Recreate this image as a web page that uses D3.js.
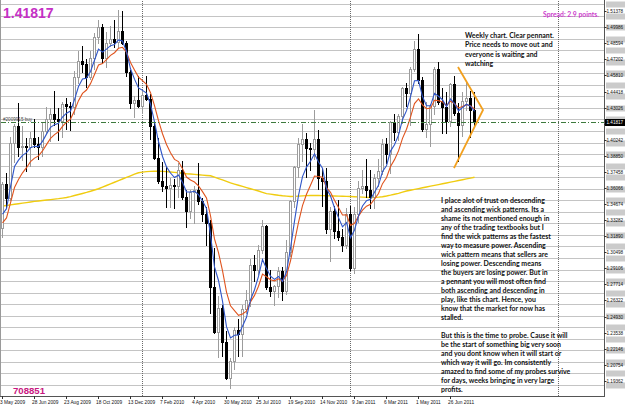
<!DOCTYPE html>
<html><head><meta charset="utf-8">
<script src="https://cdn.jsdelivr.net/npm/d3@7"></script>
<style>
html,body{margin:0;padding:0;background:#fff;overflow:hidden}
svg{display:block}
</style></head><body>
<svg id="chart" width="625" height="406"></svg>
<script>
// ---------- DATA (EUR/USD weekly) ----------
const opens = [1.3260,1.3640,1.3520,1.4000,1.4140,1.3960,1.3970,1.3960,1.4040,1.3990,
1.3960,1.4100,1.4200,1.4250,1.4200,1.4190,1.4330,1.4320,1.4310,1.4570,
1.4710,1.4680,1.4570,1.4730,1.4910,1.5000,1.4730,1.4860,1.4900,1.4870,
1.4970,1.4860,1.4610,1.4340,1.4370,1.4320,1.4410,1.4380,1.4140,1.3870,
1.3670,1.3620,1.3610,1.3630,1.3620,1.3760,1.3530,1.3410,1.3570,1.3590,
1.3490,1.3380,1.3300,1.2750,1.2360,1.2570,1.2270,1.1960,1.2110,1.2380,
1.2340,1.2560,1.2640,1.2940,1.2900,1.3070,1.3280,1.2750,1.2710,1.2760,
1.2890,1.2710,1.3050,1.3490,1.3790,1.3990,1.4030,1.3950,1.3940,1.4030,
1.3690,1.3670,1.3250,1.3410,1.3230,1.3180,1.3110,1.3380,1.2910,1.3380,
1.3610,1.3620,1.3590,1.3530,1.3690,1.3750,1.3990,1.3900,1.4180,1.4090,
1.4230,1.4470,1.4430,1.4640,1.4810,1.4540,1.4120,1.4160,1.4320,1.4640,
1.4350,1.4310,1.4190,1.4510,1.4260,1.4150,1.4360,1.4390,1.4280];
const highs = [1.3660,1.3740,1.4050,1.4160,1.4340,1.4140,1.4040,1.4090,1.4200,1.4050,
1.4180,1.4310,1.4300,1.4450,1.4300,1.4350,1.4390,1.4350,1.4620,1.4790,
1.4840,1.4720,1.4790,1.4950,1.5060,1.5030,1.4960,1.5010,1.5060,1.5144,
1.5140,1.4880,1.4630,1.4400,1.4580,1.4450,1.4580,1.4420,1.4170,1.4040,
1.3830,1.3800,1.3690,1.3680,1.3820,1.3840,1.3590,1.3590,1.3620,1.3820,
1.3520,1.3440,1.3330,1.3090,1.2670,1.2590,1.2370,1.2130,1.2400,1.2470,
1.2590,1.2720,1.2990,1.3030,1.3110,1.3330,1.3290,1.2900,1.2770,1.2920,
1.2920,1.3160,1.3500,1.3800,1.4040,1.4160,1.4080,1.4000,1.4280,1.4110,
1.3770,1.3780,1.3440,1.3450,1.3500,1.3250,1.3430,1.3450,1.3440,1.3670,
1.3760,1.3860,1.3760,1.3730,1.3860,1.4030,1.4040,1.4190,1.4250,1.4250,
1.4480,1.4520,1.4650,1.4880,1.4940,1.4570,1.4350,1.4330,1.4650,1.4700,
1.4470,1.4440,1.4520,1.4580,1.4340,1.4440,1.4530,1.4450,1.4440];
const lows = [1.3180,1.3440,1.3500,1.3830,1.3880,1.3850,1.3750,1.3800,1.3960,1.3860,
1.3880,1.4080,1.4010,1.4150,1.4020,1.4050,1.4120,1.4110,1.4250,1.4520,
1.4610,1.4480,1.4550,1.4640,1.4860,1.4690,1.4650,1.4840,1.4830,1.4830,
1.4850,1.4580,1.4300,1.4220,1.4310,1.4260,1.4370,1.4030,1.3860,1.3650,
1.3580,1.3440,1.3440,1.3430,1.3530,1.3510,1.3270,1.3350,1.3300,1.3470,
1.3320,1.3110,1.2520,1.2350,1.2140,1.2150,1.1950,1.1876,1.2040,1.2150,
1.2150,1.2520,1.2580,1.2800,1.2860,1.3040,1.2730,1.2670,1.2590,1.2660,
1.2640,1.2690,1.3020,1.3440,1.3700,1.3840,1.3700,1.3760,1.3860,1.3600,
1.3450,1.3220,1.2970,1.3170,1.3160,1.3060,1.3090,1.2900,1.2870,1.3310,
1.3560,1.3530,1.3430,1.3430,1.3620,1.3730,1.3820,1.3740,1.4020,1.4020,
1.4170,1.4320,1.4150,1.4620,1.4520,1.4100,1.4050,1.3970,1.4250,1.4330,
1.4080,1.4080,1.4140,1.4240,1.3840,1.4060,1.4280,1.4050,1.4140];
const closes = [1.3640,1.3520,1.4000,1.4140,1.3960,1.3970,1.3960,1.4040,1.3990,1.3960,
1.4100,1.4200,1.4250,1.4200,1.4190,1.4330,1.4320,1.4310,1.4570,1.4710,
1.4680,1.4570,1.4730,1.4910,1.5000,1.4730,1.4860,1.4900,1.4870,1.4970,
1.4860,1.4610,1.4340,1.4370,1.4320,1.4410,1.4380,1.4140,1.3870,1.3670,
1.3620,1.3610,1.3630,1.3620,1.3760,1.3530,1.3410,1.3570,1.3590,1.3490,
1.3380,1.3300,1.2750,1.2360,1.2570,1.2270,1.1960,1.2110,1.2380,1.2340,
1.2560,1.2640,1.2940,1.2900,1.3070,1.3280,1.2750,1.2710,1.2760,1.2890,
1.2710,1.3050,1.3490,1.3790,1.3990,1.4030,1.3950,1.3940,1.4030,1.3690,
1.3670,1.3250,1.3410,1.3230,1.3180,1.3110,1.3380,1.2910,1.3380,1.3610,
1.3620,1.3590,1.3530,1.3690,1.3750,1.3990,1.3900,1.4180,1.4090,1.4230,
1.4470,1.4430,1.4640,1.4810,1.4540,1.4120,1.4160,1.4320,1.4640,1.4350,
1.4310,1.4190,1.4510,1.4260,1.4150,1.4360,1.4390,1.4280,1.41817];

// moving-average lines, one value per bar
const maFast = [1.3380,1.3427,1.3618,1.3792,1.3848,1.3889,1.3913,1.3955,1.3967,1.3965,
1.4010,1.4073,1.4132,1.4155,1.4167,1.4221,1.4254,1.4273,1.4372,1.4485,
1.4550,1.4557,1.4615,1.4713,1.4809,1.4783,1.4809,1.4839,1.4849,1.4889,
1.4879,1.4789,1.4639,1.4549,1.4473,1.4452,1.4428,1.4332,1.4178,1.4009,
1.3879,1.3789,1.3736,1.3697,1.3718,1.3655,1.3573,1.3572,1.3578,1.3549,
1.3493,1.3429,1.3203,1.2922,1.2805,1.2627,1.2405,1.2307,1.2331,1.2334,
1.2409,1.2486,1.2637,1.2725,1.2840,1.2987,1.2908,1.2842,1.2815,1.2840,
1.2797,1.2881,1.3084,1.3319,1.3543,1.3705,1.3787,1.3838,1.3902,1.3831,
1.3777,1.3601,1.3537,1.3435,1.3350,1.3270,1.3307,1.3175,1.3243,1.3365,
1.3450,1.3497,1.3508,1.3569,1.3629,1.3749,1.3799,1.3926,1.3981,1.4064,
1.4199,1.4276,1.4397,1.4535,1.4537,1.4398,1.4319,1.4319,1.4426,1.4401,
1.4371,1.4311,1.4377,1.4338,1.4275,1.4303,1.4332,1.4315,1.4271];
const maSlow = [1.3304,1.3347,1.3478,1.3610,1.3680,1.3738,1.3782,1.3834,1.3865,1.3884,
1.3927,1.3982,1.4036,1.4069,1.4093,1.4140,1.4176,1.4203,1.4276,1.4363,
1.4426,1.4455,1.4510,1.4590,1.4672,1.4684,1.4719,1.4755,1.4778,1.4816,
1.4825,1.4782,1.4694,1.4629,1.4567,1.4536,1.4505,1.4432,1.4320,1.4190,
1.4076,1.3983,1.3912,1.3854,1.3835,1.3774,1.3701,1.3675,1.3658,1.3624,
1.3575,1.3520,1.3366,1.3165,1.3046,1.2891,1.2705,1.2586,1.2545,1.2504,
1.2515,1.2540,1.2620,1.2676,1.2755,1.2860,1.2838,1.2812,1.2802,1.2820,
1.2798,1.2848,1.2976,1.3139,1.3309,1.3453,1.3552,1.3630,1.3710,1.3706,
1.3699,1.3609,1.3569,1.3501,1.3437,1.3372,1.3374,1.3281,1.3301,1.3363,
1.3414,1.3449,1.3465,1.3510,1.3558,1.3644,1.3695,1.3792,1.3852,1.3928,
1.4036,1.4115,1.4220,1.4338,1.4378,1.4326,1.4293,1.4298,1.4366,1.4363,
1.4352,1.4320,1.4358,1.4338,1.4300,1.4312,1.4328,1.4318,1.4291];
const maLong = [1.3450,1.3455,1.3460,1.3465,1.3470,1.3475,1.3480,1.3485,1.3490,1.3494,
1.3498,1.3502,1.3506,1.3510,1.3514,1.3519,1.3524,1.3532,1.3541,1.3550,
1.3559,1.3568,1.3578,1.3589,1.3600,1.3614,1.3628,1.3642,1.3656,1.3670,
1.3684,1.3698,1.3712,1.3726,1.3738,1.3744,1.3748,1.3750,1.3751,1.3751,
1.3750,1.3748,1.3745,1.3742,1.3738,1.3734,1.3730,1.3727,1.3724,1.3721,
1.3718,1.3715,1.3712,1.3700,1.3688,1.3676,1.3663,1.3650,1.3640,1.3630,
1.3620,1.3610,1.3600,1.3590,1.3580,1.3569,1.3558,1.3553,1.3548,1.3543,
1.3539,1.3536,1.3533,1.3534,1.3536,1.3538,1.3540,1.3541,1.3542,1.3541,
1.3540,1.3539,1.3538,1.3537,1.3536,1.3535,1.3534,1.3533,1.3531,1.3529,
1.3527,1.3525,1.3524,1.3524,1.3527,1.3531,1.3537,1.3544,1.3552,1.3560,
1.3570,1.3580,1.3587,1.3594,1.3601,1.3608,1.3615,1.3622,1.3629,1.3636,
1.3643,1.3650,1.3657,1.3664,1.3671,1.3678,1.3685,1.3692,1.3699];

const dateLabels = ["3 May 2009","28 Jun 2009","23 Aug 2009","18 Oct 2009","13 Dec 2009",
"7 Feb 2010","4 Apr 2010","30 May 2010","25 Jul 2010","19 Sep 2010","14 Nov 2010",
"9 Jan 2011","6 Mar 2011","1 May 2011","26 Jun 2011"];
const dateLabelBars = [0,8,16,24,32,40,48,56,64,72,80,88,96,104,112];
const yearBreakBars = [35,87,139];

const priceTicks = [1.51378,1.49986,1.48594,1.47202,1.45810,1.44418,1.43026,1.41634,
1.40242,1.38850,1.37458,1.36066,1.34674,1.33282,1.31890,1.30498,1.29106,1.27714,
1.26322,1.24930,1.23538,1.22146,1.20754,1.19362];
const roundLevels = [1.52,1.51,1.50,1.49,1.48,1.47,1.46,1.45,1.44,1.43,1.42,1.41,1.40,
1.39,1.38,1.37,1.36,1.35,1.34,1.33,1.32,1.31,1.30,1.29,1.28,1.27,1.26,1.25,1.24,1.23,
1.22,1.21,1.20,1.19];

const currentPrice = 1.41817;
const orderPrice = 1.4175;
const orderLabel = "#2009915 buy";
const accountNo = "708851";
const spreadText = "Spread: 2.9 points.";
const pennant = [{bar:114, price:1.4654},{bar:120.25, price:1.4282},{bar:113, price:1.3779}];

const note1 = ["Weekly chart. Clear pennant.","Price needs to move out and",
"everyone is waiting and","watching"];
const note2 = ["I place alot of trust on descending","and ascending wick patterns. Its a",
"shame its not mentioned enough in","any of the trading textbooks but I",
"find the wick patterns as the fastest","way to measure power. Ascending",
"wick pattern means that sellers are","losing power. Descending means",
"the buyers are losing power. But in","a pennant you will most often find",
"both ascending and descending in","play, like this chart. Hence, you",
"know that the market for now has","stalled.","",
"But this is the time to probe. Cause it will","be the start of something big very soon",
"and you dont know when it will start or","which way it will go. Im consistently",
"amazed to find some of my probes survive","for days, weeks bringing in very large",
"profits."];

// ---------- DRAWING ----------
const W = 625, H = 406;
const plotL = 1, plotR = 604, plotT = 1, plotB = 396;
const svg = d3.select("#chart");
const x = d3.scaleLinear().domain([0, 1]).range([2, 6]);
const y = d3.scaleLinear().domain([1.18046, 1.5226]).range([396, 1]);

svg.append("rect").attr("width", W).attr("height", H).attr("fill", "#fff");
svg.append("defs").append("clipPath").attr("id", "plotclip")
  .append("rect").attr("x", plotL).attr("y", plotT).attr("width", plotR - plotL).attr("height", plotB - plotT);

const plot = svg.append("g").attr("clip-path", "url(#plotclip)");

// horizontal level lines
plot.append("g").selectAll("line").data(roundLevels).join("line")
  .attr("x1", plotL).attr("x2", plotR)
  .attr("y1", d => Math.round(y(d)) + 0.5).attr("y2", d => Math.round(y(d)) + 0.5)
  .attr("stroke", "#c4c4c4").attr("stroke-width", 1);

// period separators
plot.append("g").selectAll("line").data(yearBreakBars).join("line")
  .attr("x1", d => Math.round(x(d)) + 0.5).attr("x2", d => Math.round(x(d)) + 0.5)
  .attr("y1", plotT).attr("y2", plotB)
  .attr("stroke", "#6a6a6a").attr("stroke-width", 1).attr("stroke-dasharray", "1,1");

// long MA (yellow)
const line = d3.line().x((d, i) => x(i) + 0.5).y(d => y(d));
plot.append("path").datum(maLong).attr("d", line)
  .attr("fill", "none").attr("stroke", "#f0cc10").attr("stroke-width", 1.4);

// candles
const bars = d3.range(closes.length);
const cg = plot.append("g");
bars.forEach(i => {
  const bull = closes[i] >= opens[i];
  const xi = Math.round(x(i));
  cg.append("line")
    .attr("x1", xi + 0.5).attr("x2", xi + 0.5)
    .attr("y1", Math.round(y(highs[i]))).attr("y2", Math.round(y(lows[i])) + 1)
    .attr("stroke", bull ? "#9c9c9c" : "#000").attr("stroke-width", 1);
  const top = Math.round(y(Math.max(opens[i], closes[i])));
  const bot = Math.round(y(Math.min(opens[i], closes[i])));
  const h = Math.max(1, bot - top);
  if (bull) {
    cg.append("rect").attr("x", xi - 0.5).attr("y", top + 0.5)
      .attr("width", 2).attr("height", Math.max(0.5, h))
      .attr("fill", "#fff").attr("stroke", "#9c9c9c").attr("stroke-width", 1);
  } else {
    cg.append("rect").attr("x", xi - 1).attr("y", top)
      .attr("width", 3).attr("height", h + 1).attr("fill", "#000");
  }
});

// fast & slow MA
plot.append("path").datum(maSlow).attr("d", line)
  .attr("fill", "none").attr("stroke", "#e0541e").attr("stroke-width", 1.1);
plot.append("path").datum(maFast).attr("d", line)
  .attr("fill", "none").attr("stroke", "#2f55c8").attr("stroke-width", 1.1);

// order line
plot.append("line").attr("x1", plotL).attr("x2", plotR)
  .attr("y1", Math.round(y(orderPrice)) + 0.5).attr("y2", Math.round(y(orderPrice)) + 0.5)
  .attr("stroke", "#3d7a3d").attr("stroke-width", 1).attr("stroke-dasharray", "5,2,1,2");
plot.append("text").attr("x", 3).attr("y", y(orderPrice) - 1.5)
  .attr("font-family", "Liberation Sans, Arial, sans-serif").attr("font-size", 4.6)
  .attr("fill", "#444").text(orderLabel);

// pennant
plot.append("path").datum(pennant)
  .attr("d", d3.line().x(d => x(d.bar)).y(d => y(d.price)))
  .attr("fill", "none").attr("stroke", "#f2a01e").attr("stroke-width", 1.8)
  .attr("stroke-linejoin", "miter");

// ---------- frame & axes ----------
svg.append("line").attr("x1", 0.5).attr("x2", 0.5).attr("y1", 0).attr("y2", plotB)
  .attr("stroke", "#9a9a9a");
svg.append("line").attr("x1", plotR + 0.5).attr("x2", plotR + 0.5).attr("y1", 0).attr("y2", plotB + 1)
  .attr("stroke", "#555");
svg.append("line").attr("x1", 0).attr("x2", plotR + 1).attr("y1", plotB + 0.5).attr("y2", plotB + 0.5)
  .attr("stroke", "#555");

// price axis: grey level boxes first, black scale labels on top
const ax = svg.append("g").attr("font-family", "Liberation Sans, Arial, sans-serif")
  .attr("font-size", 4.6);
roundLevels.forEach(p => {
  const yy = Math.round(y(p)) + 0.5;
  ax.append("rect").attr("x", 606).attr("y", yy - 3).attr("width", 19).attr("height", 6)
    .attr("fill", "#cbcbcb");
});
const curY = Math.round(y(currentPrice)) + 0.5;
priceTicks.forEach(p => {
  const yy = Math.round(y(p)) + 0.5;
  ax.append("line").attr("x1", plotR).attr("x2", plotR + 2.5).attr("y1", yy).attr("y2", yy)
    .attr("stroke", "#333");
  if (Math.abs(yy - curY) > 6) {
    ax.append("text").attr("x", 606.5).attr("y", yy + 1.6).attr("fill", "#111").text(p.toFixed(5));
  }
});
// current price box
ax.append("rect").attr("x", 605).attr("y", curY - 3.5).attr("width", 20).attr("height", 7)
  .attr("fill", "#000");
ax.append("text").attr("x", 606.5).attr("y", curY + 1.7).attr("fill", "#fff").text(currentPrice.toFixed(5));

// time axis
const tx = svg.append("g").attr("font-family", "Liberation Sans, Arial, sans-serif")
  .attr("font-size", 4.8).attr("fill", "#111");
dateLabelBars.forEach((b, k) => {
  const xi = Math.round(x(b)) + 0.5;
  tx.append("line").attr("x1", xi).attr("x2", xi).attr("y1", plotB).attr("y2", plotB + 3)
    .attr("stroke", "#333");
  tx.append("text").attr("x", x(b) - 2).attr("y", 403.5).text(dateLabels[k]);
});

// ---------- texts ----------
svg.append("text").attr("x", 3).attr("y", 17.5)
  .attr("font-family", "Liberation Sans, Arial, sans-serif").attr("font-weight", 700)
  .attr("font-size", 14).attr("fill", "#c530c5").text(currentPrice.toFixed(5));
svg.append("text").attr("x", 13).attr("y", 393.5)
  .attr("font-family", "Liberation Sans, Arial, sans-serif").attr("font-weight", 700)
  .attr("font-size", 9.6).attr("fill", "#c8177f").text(accountNo);

function fitBlock(lines, x0, y0, lh, targetW, refIdx, color) {
  const g = svg.append("g").attr("font-family", "Lato, 'Open Sans', sans-serif")
    .attr("font-weight", 700).attr("font-size", 10).attr("fill", color);
  const ts = lines.map((t, k) => g.append("text").attr("x", x0).attr("y", y0 + k * lh).text(t));
  const w = ts[refIdx].node().getComputedTextLength();
  g.attr("font-size", 10 * targetW / w);
  return g;
}
fitBlock([spreadText], 543, 16.5, 9, 56, 0, "#cc3ccc");
fitBlock(note1, 465, 38, 9.3, 89, 0, "#111");
fitBlock(note2, 441, 202.5, 9.03, 104, 0, "#111");
</script>
</body></html>
